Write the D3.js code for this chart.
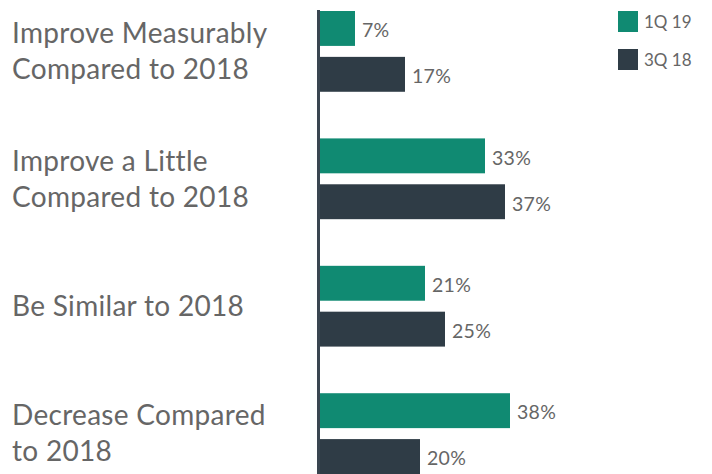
<!DOCTYPE html>
<html>
<head>
<meta charset="utf-8">
<script src="https://cdn.jsdelivr.net/npm/d3@7"></script>
<style>
  body { margin: 0; background: #fff; }
  svg { display: block; }
</style>
</head>
<body>
<div id="chart"></div>
<script>
// Data
const categories = [
    "Improve Measurably\nCompared to 2018",
    "Improve a Little\nCompared to 2018",
    "Be Similar to 2018",
    "Decrease Compared\nto 2018"
];
const seriesNames = ["1Q 19", "3Q 18"];
const values1Q19 = [7, 33, 21, 38];
const values3Q18 = [17, 37, 25, 20];

const colors = { "1Q 19": "#108a72", "3Q 18": "#2f3c46" };
const textColor = "#666666";
const font = "Lato, 'Source Sans Pro', sans-serif";

const width = 712, height = 474;

const svg = d3.select("#chart")
    .append("svg")
    .attr("width", width)
    .attr("height", height);

// Build rows from the arrays
const rows = categories.map((c, i) => ({
    category: c,
    values: [
        { series: "1Q 19", value: values1Q19[i] },
        { series: "3Q 18", value: values3Q18[i] }
    ]
}));

// Scales
const axisX = 320;
const x = d3.scaleLinear().domain([0, 40]).range([axisX, axisX + 200]);
const y = d3.scaleBand().domain(categories).range([11, 474]).paddingInner(0.366).paddingOuter(0);
const ySub = d3.scaleBand().domain(seriesNames).range([0, y.bandwidth()]).paddingInner(0.239);

// Bars
const groups = svg.selectAll(".group")
    .data(rows)
    .enter()
    .append("g")
    .attr("transform", d => `translate(0, ${y(d.category)})`);

groups.selectAll("rect")
    .data(d => d.values)
    .enter()
    .append("rect")
    .attr("x", x(0))
    .attr("y", d => ySub(d.series))
    .attr("width", d => x(d.value) - x(0))
    .attr("height", ySub.bandwidth())
    .attr("fill", d => colors[d.series]);

// Value labels
groups.selectAll(".val")
    .data(d => d.values)
    .enter()
    .append("text")
    .attr("x", d => x(d.value) + 7)
    .attr("y", d => ySub(d.series) + ySub.bandwidth() / 2 + 2)
    .attr("dy", "0.35em")
    .attr("fill", textColor)
    .style("font-family", font)
    .style("font-size", "19.5px")
    .style("letter-spacing", "0.3px")
    .text(d => d.value + "%");

// Category labels (multi-line, centered on the group)
const lineHeight = 36;
groups.append("text")
    .attr("fill", textColor)
    .style("font-family", font)
    .style("font-size", "28px")
    .style("letter-spacing", "0.3px")
    .each(function(d) {
        const lines = d.category.split("\n");
        const mid = y.bandwidth() / 2;
        const first = mid - (lines.length - 1) * lineHeight / 2;
        lines.forEach((line, i) => {
            d3.select(this).append("tspan")
                .attr("x", 12)
                .attr("y", first + i * lineHeight)
                .attr("dy", "0.35em")
                .text(line);
        });
    });

// Vertical axis line
svg.append("line")
    .attr("x1", axisX - 1.5)
    .attr("x2", axisX - 1.5)
    .attr("y1", 10)
    .attr("y2", height)
    .attr("stroke", "#3a4550")
    .attr("stroke-width", 3);

// Legend
const legend = svg.selectAll(".legend")
    .data(seriesNames)
    .enter()
    .append("g")
    .attr("transform", (d, i) => `translate(618, ${11 + i * 38})`);

legend.append("rect")
    .attr("width", 20)
    .attr("height", 21)
    .attr("fill", d => colors[d]);

legend.append("text")
    .attr("x", 26)
    .attr("y", 11)
    .attr("dy", "0.35em")
    .attr("fill", textColor)
    .style("font-family", font)
    .style("font-size", "17px")
    .text(d => d);
</script>
</body>
</html>
